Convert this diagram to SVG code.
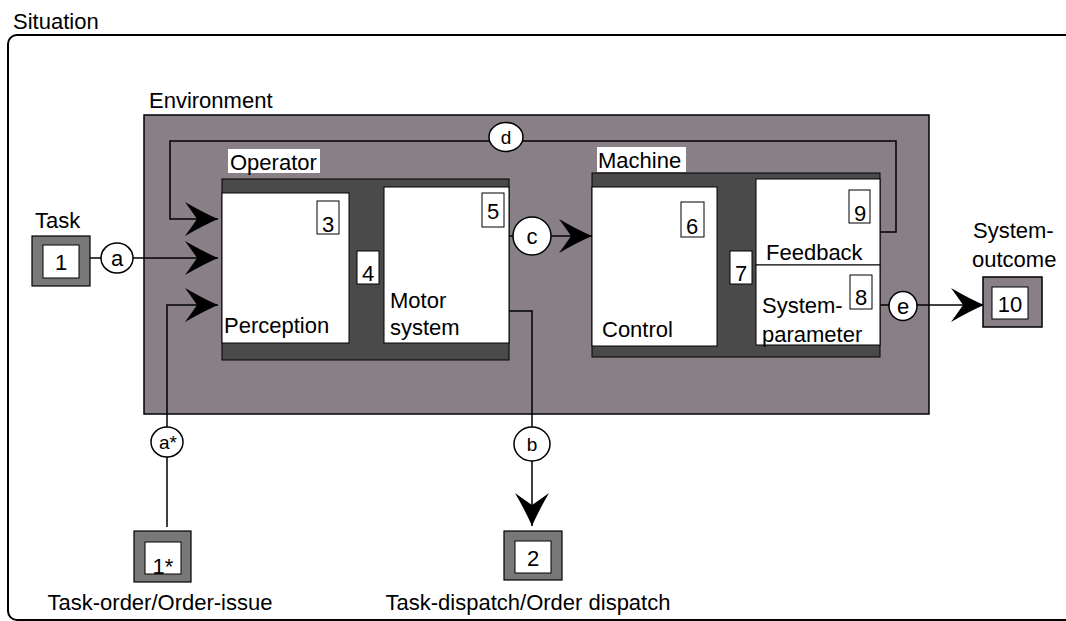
<svg xmlns="http://www.w3.org/2000/svg" width="1066" height="621" viewBox="0 0 1066 621">
<style>
text{font-family:"Liberation Sans",Arial,sans-serif;font-size:22px;fill:#000}
.num{text-anchor:middle}
.lbl{text-anchor:middle}
.small{font-size:19px}
.ln{fill:none;stroke:#000;stroke-width:1.5}
.circ{fill:#fff;stroke:#000;stroke-width:1.5}
.nb{fill:#fff;stroke:#000;stroke-width:1}
.wb{fill:#fff;stroke:#000;stroke-width:1}
.dark{fill:#4a4a4a;stroke:#000;stroke-width:1}
.gray{fill:#787878;stroke:#000;stroke-width:1.2}
.mauve{fill:#897f87;stroke:#000;stroke-width:1.5}
</style>
<defs>
<marker id="arr" viewBox="-36 -19 38 38" refX="0" refY="0" markerWidth="38" markerHeight="38" markerUnits="userSpaceOnUse" orient="auto">
<path d="M0,0 Q-14,-6 -33,-17 Q-25,-6 -21,0 Q-25,6 -33,17 Q-14,6 0,0 Z" fill="#000"/>
</marker>
</defs>

<g id="situation">
<rect x="8" y="35" width="1100" height="585" rx="9" fill="none" stroke="#000" stroke-width="2"/>
<text x="13" y="29">Situation</text>
</g>

<g id="environment">
<rect class="mauve" x="144" y="115" width="785" height="299"/>
<text x="149" y="108">Environment</text>
</g>

<g id="connectors">
<path class="ln" d="M880,232 H896 V141 H170 V219 H218" marker-end="url(#arr)"/>
<path class="ln" d="M90,258 H218" marker-end="url(#arr)"/>
<path class="ln" d="M167,527 V305 H218" marker-end="url(#arr)"/>
<path class="ln" d="M509,236 H592" marker-end="url(#arr)"/>
<path class="ln" d="M507,311 H532 V526" marker-end="url(#arr)"/>
<path class="ln" d="M880,305 H984" marker-end="url(#arr)"/>
</g>

<g id="operator">
<rect class="dark" x="222" y="179" width="287" height="181"/>
<rect x="228" y="149" width="92" height="24" fill="#fff"/>
<text x="230" y="170">Operator</text>
</g>

<g id="perception">
<rect class="wb" x="222" y="193" width="127" height="150"/>
<text x="224" y="333">Perception</text>
</g>
<g id="n3"><rect class="nb" x="317" y="201" width="22" height="33"/><text class="num" x="328" y="232">3</text></g>
<g id="n4"><rect class="nb" x="357" y="251" width="22" height="33"/><text class="num" x="368" y="281">4</text></g>

<g id="motor">
<rect class="wb" x="384" y="187" width="125" height="156"/>
<text x="390" y="308">Motor</text>
<text x="390" y="335">system</text>
</g>
<g id="n5"><rect class="nb" x="482" y="193" width="22" height="34"/><text class="num" x="493" y="219">5</text></g>

<g id="machine">
<rect class="dark" x="592" y="173" width="288" height="184"/>
<rect x="597" y="147" width="89" height="25" fill="#fff"/>
<text x="598" y="168">Machine</text>
</g>
<g id="control">
<rect class="wb" x="592" y="187" width="125" height="159"/>
<text x="602" y="337">Control</text>
</g>
<g id="n6"><rect class="nb" x="681" y="202" width="23" height="35"/><text class="num" x="692" y="234">6</text></g>
<g id="n7"><rect class="nb" x="730" y="251" width="22" height="33"/><text class="num" x="741" y="281">7</text></g>
<g id="feedback">
<rect class="wb" x="756" y="179" width="124" height="86"/>
<text x="766" y="260">Feedback</text>
</g>
<g id="n9"><rect class="nb" x="849" y="190" width="21" height="33"/><text class="num" x="860" y="221">9</text></g>
<g id="sysparam">
<rect class="wb" x="756" y="265" width="124" height="80"/>
<text x="762" y="313">System-</text>
<text x="762" y="342">parameter</text>
</g>
<g id="n8"><rect class="nb" x="850" y="275" width="22" height="34"/><text class="num" x="861" y="305">8</text></g>

<g id="task">
<text x="35" y="228">Task</text>
<rect class="gray" x="32" y="236" width="58" height="50"/>
<rect class="nb" x="43" y="245" width="36" height="33"/>
<text class="num" x="61" y="270">1</text>
</g>

<g id="taskorder">
<rect class="gray" x="134" y="531" width="57" height="51"/>
<rect class="nb" x="145" y="542" width="36" height="32"/>
<text class="num" x="163" y="574">1*</text>
<text class="lbl" x="160" y="610">Task-order/Order-issue</text>
</g>

<g id="taskdispatch">
<rect class="gray" x="504" y="531" width="58" height="49"/>
<rect class="nb" x="515" y="541" width="36" height="32"/>
<text class="num" x="533" y="566">2</text>
<text class="lbl" x="528" y="610">Task-dispatch/Order dispatch</text>
</g>

<g id="outcome">
<text x="973" y="238">System-</text>
<text x="972" y="267">outcome</text>
<rect class="mauve" x="983" y="277" width="59" height="50"/>
<rect class="nb" x="992" y="287" width="36" height="32"/>
<text class="num" x="1010" y="312">10</text>
</g>

<g id="labels">
<g id="la"><ellipse class="circ" cx="117" cy="258" rx="16" ry="15"/><text class="num" x="117" y="266">a</text></g>
<g id="las"><ellipse class="circ" cx="167" cy="442" rx="16" ry="15"/><text class="num small" x="168" y="449">a*</text></g>
<g id="lb"><ellipse class="circ" cx="532" cy="444" rx="18" ry="17"/><text class="num small" x="532" y="451">b</text></g>
<g id="lc"><ellipse class="circ" cx="532" cy="236" rx="19" ry="19"/><text class="num" x="532" y="244">c</text></g>
<g id="ld"><ellipse class="circ" cx="506" cy="137" rx="17" ry="14.5"/><text class="num small" x="506" y="144">d</text></g>
<g id="le"><ellipse class="circ" cx="903" cy="306" rx="14" ry="14.5"/><text class="num" x="903" y="314">e</text></g>
</g>
</svg>
